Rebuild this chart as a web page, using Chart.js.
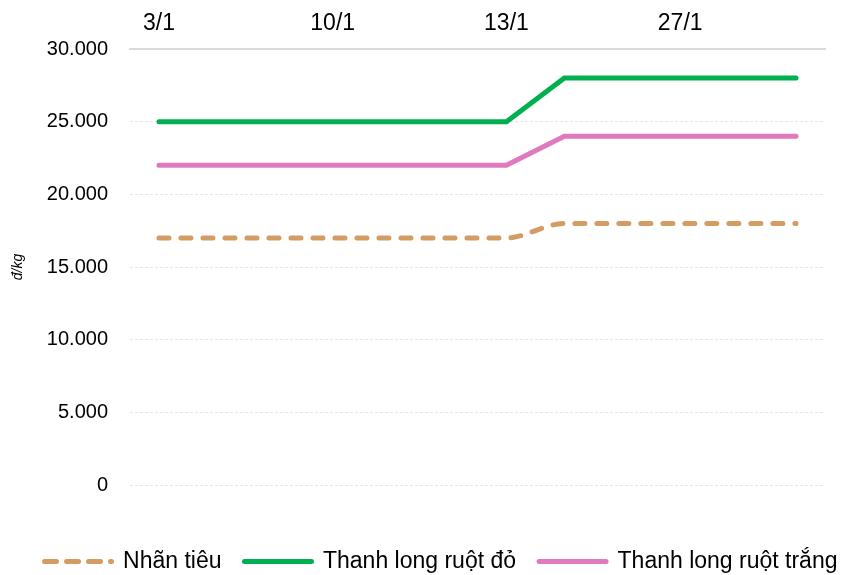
<!DOCTYPE html>
<html lang="vi">
<head>
    <meta charset="UTF-8">
    <title>Giá nhãn tiêu, thanh long</title>
    <script src="https://cdn.jsdelivr.net/npm/chart.js"></script>
    <style>
        html, body { margin: 0; padding: 0; background: #fff; }
        #wrap { width: 846px; height: 575px; }
    </style>
</head>
<body>
    <div id="wrap"><canvas id="priceChart"></canvas></div>

    <script>
        // categories along the top axis (only some dates are labelled)
        const categories = ['3/1', '', '', '10/1', '', '', '13/1', '', '', '27/1', '', ''];

        // series values, đ/kg
        const nhanTieu = [17000, 17000, 17000, 17000, 17000, 17000, 17000, 18000, 18000, 18000, 18000, 18000];
        const thanhLongDo = [25000, 25000, 25000, 25000, 25000, 25000, 25000, 28000, 28000, 28000, 28000, 28000];
        const thanhLongTrang = [22000, 22000, 22000, 22000, 22000, 22000, 22000, 24000, 24000, 24000, 24000, 24000];

        const yTicks = [0, 5000, 10000, 15000, 20000, 25000, 30000];

        const fmt = v => v === 0 ? '0' : v.toLocaleString('de-DE');
        const font = 'Arial, "Liberation Sans"';

        // legend sits lower and a bit to the right in the original
        const legendShift = {
            id: 'legendShift',
            afterLayout(chart) {
                const lg = chart.legend;
                lg.left += 18; lg.right += 18;
                lg.top += 42; lg.bottom += 42;
            }
        };

        new Chart(document.getElementById('priceChart'), {
            type: 'line',
            data: {
                labels: categories,
                datasets: [{
                    label: 'Nhãn tiêu',
                    data: nhanTieu,
                    borderColor: '#d39c62',
                    backgroundColor: '#d39c62',
                    borderWidth: 5,
                    borderDash: [10, 12],
                    borderCapStyle: 'round',
                    cubicInterpolationMode: 'monotone',
                    pointRadius: 0
                }, {
                    label: 'Thanh long ruột đỏ',
                    data: thanhLongDo,
                    borderColor: '#00b050',
                    backgroundColor: '#00b050',
                    borderWidth: 5,
                    borderCapStyle: 'round',
                    pointRadius: 0
                }, {
                    label: 'Thanh long ruột trắng',
                    data: thanhLongTrang,
                    borderColor: '#e07abd',
                    backgroundColor: '#e07abd',
                    borderWidth: 5,
                    borderCapStyle: 'round',
                    pointRadius: 0
                }]
            },
            plugins: [legendShift],
            options: {
                responsive: true,
                maintainAspectRatio: false,
                animation: false,
                layout: { padding: { top: 0, right: 0, bottom: 34, left: 0 } },
                plugins: {
                    tooltip: { enabled: false },
                    legend: {
                        position: 'bottom',
                        labels: {
                            usePointStyle: true,
                            pointStyle: 'line',
                            pointStyleWidth: 67,
                            color: '#000',
                            padding: 23,
                            font: { family: font, size: 23 },
                            generateLabels: chart => Chart.defaults.plugins.legend.labels.generateLabels(chart).map((item, i) => {
                                // legend dashes are a little longer than in the plot
                                item.lineDash = chart.data.datasets[i].borderDash ? [12, 10] : [];
                                item.lineCap = 'round';
                                item.lineWidth = 5;
                                return item;
                            })
                        }
                    }
                },
                scales: {
                    x: {
                        position: 'top',
                        offset: true,
                        grid: { display: false },
                        border: { display: true, color: '#d9d9d9', width: 2 },
                        ticks: {
                            autoSkip: false,
                            maxRotation: 0,
                            color: '#000',
                            padding: 4,
                            font: { family: font, size: 23 }
                        },
                        afterFit: s => { s.height = 49; }
                    },
                    y: {
                        min: 0,
                        max: 30000,
                        afterBuildTicks: s => { s.ticks = yTicks.map(v => ({ value: v })); },
                        grid: { color: '#e6e6e6', lineWidth: 1, drawTicks: false },
                        border: { display: false, dash: [3, 2] },
                        ticks: {
                            color: '#000',
                            padding: 22,
                            font: { family: font, size: 20 },
                            callback: v => fmt(v)
                        },
                        title: {
                            display: true,
                            text: 'đ/kg',
                            color: '#000',
                            padding: { top: 10, bottom: 0 },
                            font: { family: font, size: 14, style: 'italic' }
                        },
                        afterFit: s => { s.width = 130; }
                    },
                    // empty strip on the right of the plot
                    yRight: {
                        type: 'linear',
                        position: 'right',
                        grid: { display: false },
                        border: { display: false },
                        ticks: { display: false },
                        afterFit: s => { s.width = 21; }
                    }
                }
            }
        });
    </script>
</body>
</html>
